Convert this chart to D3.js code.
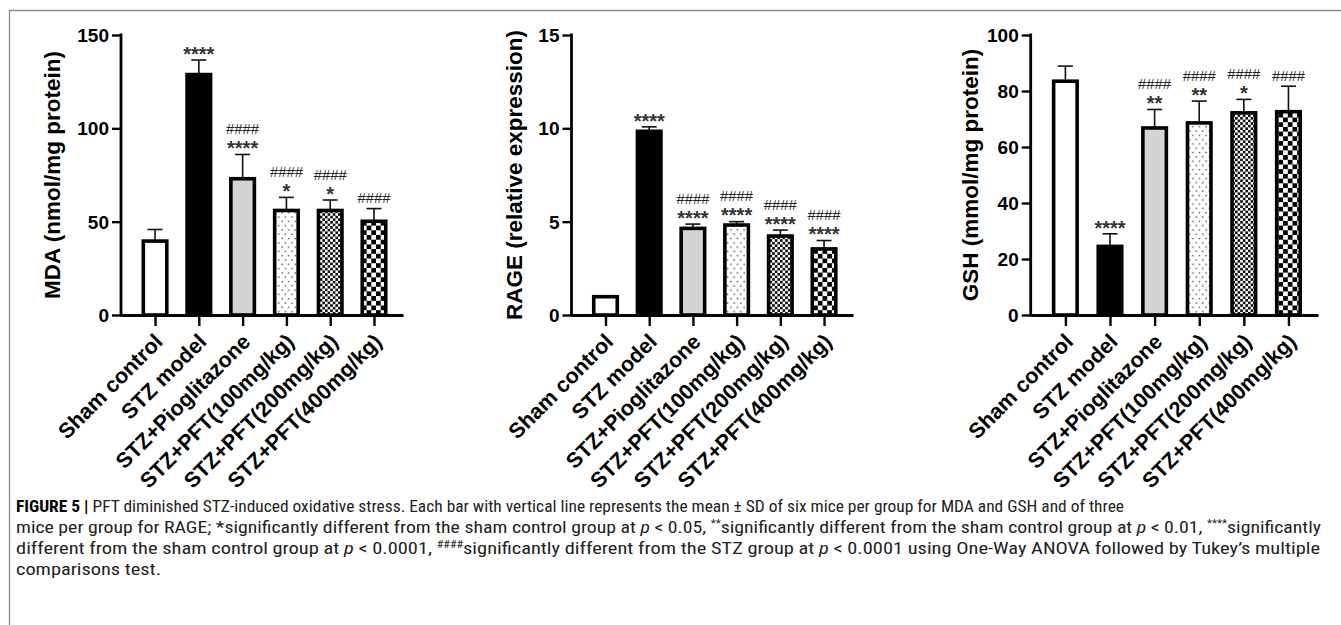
<!DOCTYPE html>
<html><head><meta charset="utf-8">
<script src="https://cdn.jsdelivr.net/npm/d3@7"></script>
<style>body{margin:0;background:#fff} svg{display:block}</style>
</head><body>
<svg id="c" width="1341" height="625"></svg>
<script>
// ---------- data ----------
const categories = ["Sham control","STZ model","STZ+Pioglitazone","STZ+PFT(100mg/kg)","STZ+PFT(200mg/kg)","STZ+PFT(400mg/kg)"];
const mdaMean = [39.6, 128.8, 73, 56, 56, 50.2];
const mdaSD   = [6.2, 7.8, 13, 7, 5.6, 6.8];
const rageMean = [0.98, 9.84, 4.64, 4.82, 4.23, 3.54];
const rageSD   = [0.03, 0.24, 0.23, 0.18, 0.32, 0.45];
const gshMean = [83.5, 24.5, 66.8, 68.6, 72.2, 72.6];
const gshSD   = [5.4, 4.5, 6.6, 7.8, 4.8, 9.1];
const mdaStars  = ["", "****", "****", "*", "*", ""];
const mdaHashes = ["", "", "####", "####", "####", "####"];
const rageStars  = ["", "****", "****", "****", "****", "****"];
const rageHashes = ["", "", "####", "####", "####", "####"];
const gshStars  = ["", "****", "**", "**", "*", ""];
const gshHashes = ["", "", "####", "####", "####", "####"];
const mdaTicks = [0, 50, 100, 150];
const rageTicks = [0, 5, 10, 15];
const gshTicks = [0, 20, 40, 60, 80, 100];
const titles = ["MDA (nmol/mg protein)", "RAGE (relative expression)", "GSH (mmol/mg protein)"];

// ---------- setup ----------
const svg = d3.select("#c");
const defs = svg.append("defs");
// dots
const pDots = defs.append("pattern").attr("id","dots").attr("patternUnits","userSpaceOnUse").attr("width",6.6).attr("height",8.6);
pDots.append("rect").attr("width",6.6).attr("height",8.6).attr("fill","#fff");
pDots.append("circle").attr("cx",1.6).attr("cy",2).attr("r",0.85).attr("fill","#555");
pDots.append("circle").attr("cx",4.9).attr("cy",6.3).attr("r",0.85).attr("fill","#555");
// fine checker
const fc = 2.6;
const pFine = defs.append("pattern").attr("id","fine").attr("patternUnits","userSpaceOnUse").attr("width",fc*2).attr("height",fc*2);
pFine.append("rect").attr("width",fc*2).attr("height",fc*2).attr("fill","#fff");
pFine.append("rect").attr("width",fc).attr("height",fc).attr("fill","#111");
pFine.append("rect").attr("x",fc).attr("y",fc).attr("width",fc).attr("height",fc).attr("fill","#111");
// coarse checker
const cc = 4.7;
const pCoarse = defs.append("pattern").attr("id","coarse").attr("patternUnits","userSpaceOnUse").attr("width",cc*2).attr("height",cc*2);
pCoarse.append("rect").attr("width",cc*2).attr("height",cc*2).attr("fill","#fff");
pCoarse.append("rect").attr("width",cc).attr("height",cc).attr("fill","#000");
pCoarse.append("rect").attr("x",cc).attr("y",cc).attr("width",cc).attr("height",cc).attr("fill","#000");

const fills = ["#fff", "#000", "#d4d4d4", "url(#dots)", "url(#fine)", "url(#coarse)"];

// frame
svg.append("path").attr("d","M9.5,1341 L9.5,10.5 L1341,10.5").attr("fill","none").attr("stroke","#8a8a8a").attr("stroke-width",1.3);

const FONT = "'Liberation Sans', Arial, Helvetica, sans-serif";
const panels = [
  {x0:121, x1:403, max:150, mean:mdaMean, sd:mdaSD, stars:mdaStars, hashes:mdaHashes, ticks:mdaTicks, title:titles[0], tdx:-61},
  {x0:571.5, x1:853, max:15, mean:rageMean, sd:rageSD, stars:rageStars, hashes:rageHashes, ticks:rageTicks, title:titles[1], tdx:-50},
  {x0:1030.7, x1:1318, max:100, mean:gshMean, sd:gshSD, stars:gshStars, hashes:gshHashes, ticks:gshTicks, title:titles[2], tdx:-53}
];
const yTop = 35, yBot = 315;
const barW = 23.5;

panels.forEach(p => {
  const g = svg.append("g");
  const y = d3.scaleLinear().domain([0, p.max]).range([yBot, yTop]);
  const x = d3.scalePoint().domain(categories).range([p.x0, p.x1]).padding(0.72).align(0.54);
  const data = categories.map((c,i)=>({c, m:p.mean[i], s:p.sd[i], st:p.stars[i], h:p.hashes[i], f:fills[i]}));

  // error bars (upper only)
  data.forEach(d => {
    const cx = x(d.c), yt = y(d.m + d.s);
    g.append("line").attr("x1",cx).attr("x2",cx).attr("y1",y(d.m)).attr("y2",yt).attr("stroke","#111").attr("stroke-width",1.6);
    g.append("line").attr("x1",cx-7.5).attr("x2",cx+7.5).attr("y1",yt).attr("y2",yt).attr("stroke","#111").attr("stroke-width",1.6);
  });
  // bars
  g.selectAll("rect.bar").data(data).join("rect").attr("class","bar")
    .attr("x", d => x(d.c) - barW/2).attr("width", barW)
    .attr("y", d => y(d.m)).attr("height", d => yBot - y(d.m))
    .attr("fill", d => d.f).attr("stroke","#000").attr("stroke-width",3.6);

  // annotations
  data.forEach(d => {
    const cx = x(d.c), yt = y(d.m + d.s);
    let hashC;
    if (d.st) {
      const sc = yt - 10.5;
      g.append("text").attr("x",cx).attr("y",sc + 11.2).attr("text-anchor","middle")
        .attr("font-family",FONT).attr("font-weight","bold").attr("font-size",20).attr("fill","#333").text(d.st);
      hashC = sc - 15;
    } else hashC = yt - 10.5;
    if (d.h) {
      g.append("text").attr("x",cx - 16.5).attr("y",hashC + 5)
        .attr("font-family",FONT).attr("font-size",14).attr("fill","#222")
        .attr("textLength",33).attr("lengthAdjust","spacingAndGlyphs").text(d.h);
    }
  });

  // axes
  const ya = d3.axisLeft(y).tickValues(p.ticks).tickSize(9).tickPadding(3).tickSizeOuter(0);
  const yg = g.append("g").attr("transform",`translate(${p.x0},0)`).call(ya);
  yg.select(".domain").attr("stroke","#000").attr("stroke-width",2.8).attr("d",`M0,${yTop - 1.4}V${yBot + 1.4}`);
  yg.selectAll(".tick line").attr("stroke","#000").attr("stroke-width",2.4);
  yg.selectAll(".tick text").attr("font-family",FONT).attr("font-weight","bold").attr("font-size",19).attr("fill","#000").attr("dy","0.35em");

  const xa = d3.axisBottom(x).tickSize(11).tickSizeOuter(0).tickFormat("");
  const xg = g.append("g").attr("transform",`translate(0,${yBot})`).call(xa);
  xg.select(".domain").attr("stroke","#000").attr("stroke-width",2.8);
  xg.selectAll(".tick line").attr("stroke","#000").attr("stroke-width",2.4);

  // x labels rotated
  g.selectAll("text.xl").data(categories).join("text").attr("class","xl")
    .attr("transform", c => `translate(${x(c) + 9},${yBot + 28}) rotate(-45)`)
    .attr("text-anchor","end").attr("font-family",FONT).attr("font-weight","bold").attr("font-size",21.5).attr("fill","#000")
    .text(c => c);

  // y title
  g.append("text").attr("transform",`translate(${p.x0 + p.tdx},${(yTop + yBot)/2}) rotate(-90)`)
    .attr("text-anchor","middle").attr("font-family",FONT).attr("font-weight","bold").attr("font-size",22.5).attr("fill","#000")
    .text(p.title);
});

// ---------- caption ----------
const CF = "'Liberation Sans Narrow', 'Roboto Condensed', 'Liberation Sans', Arial, sans-serif";
const cap = svg.append("g").attr("font-family",CF).attr("font-size",17).attr("fill","#222");
function line(yv, len, parts) {
  const t = cap.append("text").attr("x",16).attr("y",yv);
  if (len) t.attr("textLength",len).attr("lengthAdjust","spacingAndGlyphs");
  parts.forEach(pt => {
    const s = t.append("tspan").text(pt.t);
    if (pt.b) s.attr("font-weight","bold").attr("fill","#000");
    if (pt.i) s.attr("font-style","italic");
    if (pt.sup) s.attr("font-size",10).attr("dy",-6);
    if (pt.after) s.attr("dy",6);
  });
}
line(512, 1108, [
  {t:"FIGURE 5", b:true}, {t:" | ", b:true},
  {t:"PFT diminished STZ-induced oxidative stress. Each bar with vertical line represents the mean \u00B1 SD of six mice per group for MDA and GSH and of three"}
]);
line(533, 1305, [
  {t:"mice per group for RAGE; *significantly different from the sham control group at "}, {t:"p", i:true},
  {t:" < 0.05, "}, {t:"**", sup:true}, {t:"significantly different from the sham control group at ", after:true}, {t:"p", i:true},
  {t:" < 0.01, "}, {t:"****", sup:true}, {t:"significantly", after:true}
]);
line(554, 1304, [
  {t:"different from the sham control group at "}, {t:"p", i:true}, {t:" < 0.0001, "}, {t:"####", sup:true},
  {t:"significantly different from the STZ group at ", after:true}, {t:"p", i:true},
  {t:" < 0.0001 using One-Way ANOVA followed by Tukey\u2019s multiple"}
]);
line(575, 145, [{t:"comparisons test."}]);
</script>
</body></html>
